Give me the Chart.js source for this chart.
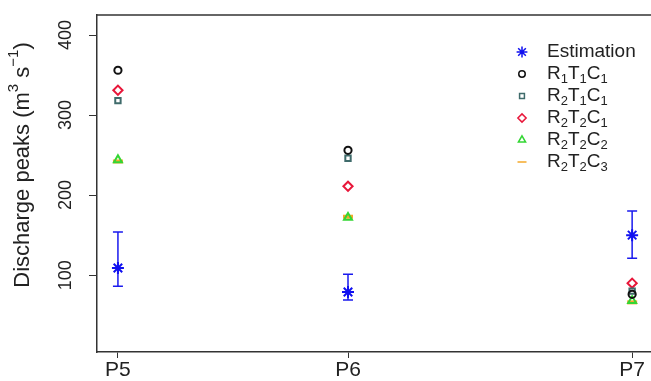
<!DOCTYPE html>
<html>
<head>
<meta charset="utf-8">
<script src="https://cdn.jsdelivr.net/npm/chart.js@4/dist/chart.umd.min.js"></script>
<style>
  html, body { margin: 0; padding: 0; background: #fff; }
  #wrap { width: 651px; height: 381px; }
</style>
</head>
<body>
<div id="wrap"><canvas id="myChart" width="651" height="381"></canvas></div>
<script>
// stations along the river (x position in axis units) and their labels
const stations = ["P5", "P6", "P7"];
const stationX = [5, 6, 7.235];

// discharge peaks (m3/s)
const estimation = [109, 79, 150];
const estLower = [86, 69, 121];
const estUpper = [154, 101, 180];
const r1t1c1 = [356, 256, 76];
const r2t1c1 = [318, 246, 80];
const r2t2c1 = [331, 211, 90];
const r2t2c2 = [244, 172, 68];
const r2t2c3 = [242, 173, 66];

const yTicks = [100, 200, 300, 400];

const FONT = "'Liberation Sans', Arial, sans-serif";

function pts(vals) {
    return stationX.map((x, i) => ({ x: x, y: vals[i] }));
}

const series = [
    { label: "Estimation", data: estimation, color: "#1010f0", style: "star", r: 6, bw: 2, order: 0 },
    { label: "R\u2081T\u2081C\u2081", data: r1t1c1, color: "#111111", style: "circle", r: 3.6, bw: 2, order: 1 },
    { label: "R\u2082T\u2081C\u2081", data: r2t1c1, color: "#3f6b6b", style: "rect", r: 3.8, bw: 2, order: 2 },
    { label: "R\u2082T\u2082C\u2081", data: r2t2c1, color: "#e8173a", style: "rectRot", r: 4.6, bw: 2, order: 3 },
    { label: "R\u2082T\u2082C\u2082", data: r2t2c2, color: "#33d633", style: "triangle", r: 4.6, bw: 2, order: 4 },
    { label: "R\u2082T\u2082C\u2083", data: r2t2c3, color: "#f5a82a", style: "line", r: 5, bw: 4, order: 5 }
];

const yTitle = "Discharge peaks (m\u00b3 s\u207b\u00b9)";

const SUBS = "\u2080\u2081\u2082\u2083\u2084\u2085\u2086\u2087\u2088\u2089";
const SUPS = { "\u00b3": "3", "\u207b": "\u2212", "\u00b9": "1" };

// write text, drawing unicode sub/superscripts as small shifted characters
function drawRich(ctx, text, x, y, size) {
    const small = Math.round(size * 0.7);
    for (const ch of text) {
        const k = SUBS.indexOf(ch);
        let s = ch, fs = size, dy = 0;
        if (k >= 0) { s = String(k); fs = small; dy = size * 0.3; }
        else if (SUPS[ch]) { s = SUPS[ch]; fs = small; dy = -size * 0.4; }
        ctx.font = fs + "px " + FONT;
        ctx.fillText(s, x, y + dy);
        x += ctx.measureText(s).width;
    }
    return x;
}

function richWidth(ctx, text, size) {
    const small = Math.round(size * 0.7);
    let w = 0;
    for (const ch of text) {
        const k = SUBS.indexOf(ch);
        let s = ch, fs = size;
        if (k >= 0) { s = String(k); fs = small; }
        else if (SUPS[ch]) { s = SUPS[ch]; fs = small; }
        ctx.font = fs + "px " + FONT;
        w += ctx.measureText(s).width;
    }
    return w;
}

// error bars for the estimation
const errorBars = {
    id: "errorBars",
    beforeDatasetsDraw(chart) {
        const ctx = chart.ctx;
        const xs = chart.scales.x, ys = chart.scales.y;
        ctx.save();
        ctx.strokeStyle = "#1a1aee";
        ctx.lineWidth = 1.5;
        stationX.forEach((v, i) => {
            const px = xs.getPixelForValue(v);
            const top = ys.getPixelForValue(estUpper[i]);
            const bot = ys.getPixelForValue(estLower[i]);
            ctx.beginPath();
            ctx.moveTo(px, top); ctx.lineTo(px, bot);
            ctx.moveTo(px - 5, top); ctx.lineTo(px + 5, top);
            ctx.moveTo(px - 5, bot); ctx.lineTo(px + 5, bot);
            ctx.stroke();
        });
        ctx.restore();
    }
};

// top border of the box, y title and the legend inside the plot
const boxAndLegend = {
    id: "boxAndLegend",
    afterDraw(chart) {
        const ctx = chart.ctx;
        const a = chart.chartArea;
        ctx.save();
        ctx.strokeStyle = "#333";
        ctx.lineWidth = 1.5;
        ctx.beginPath();
        ctx.moveTo(a.left, a.top);
        ctx.lineTo(a.right, a.top);
        ctx.stroke();

        ctx.textBaseline = "middle";
        ctx.textAlign = "left";

        // y axis title, rotated
        ctx.save();
        ctx.translate(23, 165);
        ctx.rotate(-Math.PI / 2);
        ctx.fillStyle = "#222";
        const tw = richWidth(ctx, yTitle, 22);
        drawRich(ctx, yTitle, -tw / 2, 0, 22);
        ctx.restore();

        series.forEach((s, i) => {
            const y = 52 + i * 22;
            ctx.strokeStyle = s.color;
            ctx.fillStyle = "rgba(0,0,0,0)";
            Chart.helpers.drawPoint(ctx, {
                pointStyle: s.style, radius: s.r * 0.9, borderWidth: s.style === "line" ? 3 : 1.4, rotation: 0
            }, 522, y);
            ctx.fillStyle = "#222";
            drawRich(ctx, s.label, 547, y, 19);
        });
        ctx.restore();
    }
};

new Chart("myChart", {
    type: "scatter",
    data: {
        datasets: series.map(s => ({
            label: s.label,
            data: pts(s.data),
            pointStyle: s.style,
            pointRadius: s.r,
            pointHoverRadius: s.r,
            borderColor: s.color,
            backgroundColor: "rgba(0,0,0,0)",
            pointBorderWidth: s.bw,
            order: s.order,
            showLine: false
        }))
    },
    options: {
        responsive: false,
        animation: false,
        layout: { autoPadding: false, padding: { top: 15, right: 0, left: 0, bottom: 0 } },
        plugins: {
            legend: { display: false },
            tooltip: { enabled: false }
        },
        scales: {
            x: {
                type: "linear",
                min: 4.909,
                max: 7.317,
                afterBuildTicks: scale => { scale.ticks = stationX.map(v => ({ value: v })); },
                afterFit: scale => {
                    scale.height = 29;
                    scale.paddingLeft = 0;
                    scale.paddingRight = 0;
                },
                grid: { drawOnChartArea: false, tickLength: 6, color: "#333", lineWidth: 1 },
                border: { color: "#333", width: 1.5 },
                ticks: {
                    padding: 0,
                    color: "#222",
                    font: { family: FONT, size: 21 },
                    maxRotation: 0,
                    autoSkip: false,
                    callback: (v, i) => stations[i]
                }
            },
            y: {
                min: 4,
                max: 425,
                afterBuildTicks: scale => { scale.ticks = yTicks.map(v => ({ value: v })); },
                afterFit: scale => {
                    scale.width = 97;
                    scale.paddingTop = 0;
                    scale.paddingBottom = 0;
                },
                grid: { drawOnChartArea: false, tickLength: 8, color: "#333", lineWidth: 1 },
                border: { color: "#333", width: 1.5 },
                ticks: {
                    color: "#222",
                    font: { family: FONT, size: 18 },
                    minRotation: 90,
                    maxRotation: 90,
                    crossAlign: "center",
                    padding: 8
                }
            }
        }
    },
    plugins: [errorBars, boxAndLegend]
});
</script>
</body>
</html>
